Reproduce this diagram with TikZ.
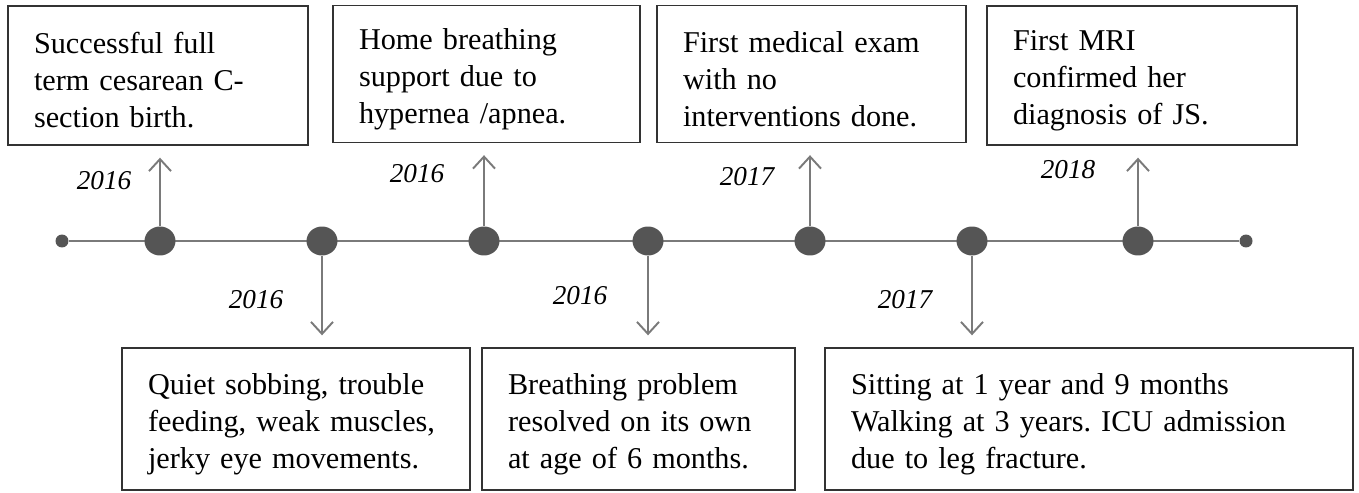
\documentclass[tikz,border=0pt]{standalone}
\usepackage{fontspec}
\setmainfont{Liberation Serif}
\frenchspacing
\usepackage{tikz}
\usetikzlibrary{arrows.meta, positioning, shapes.geometric}
\definecolor{linegray}{HTML}{7A7A7A}
\definecolor{dotgray}{HTML}{555555}
\definecolor{boxgray}{HTML}{333333}
\tikzset{%
	event box/.style={
		draw=boxgray,
		line width=0.8pt,
		align=left,
		inner xsep=0.52cm,
		font=\fontsize{17.2}{21}\selectfont,
		execute at begin node={\rule{0pt}{17.5pt}}
	},
	big dot/.style={
		ellipse, fill=dotgray, inner sep=0pt,
		minimum width=0.62cm, minimum height=0.58cm
	},
	end dot/.style={
		circle, fill=dotgray, inner sep=0pt,
		minimum size=0.26cm
	},
}

\begin{document}
\begin{tikzpicture}[x=0.02cm, y=-0.02cm]
			\tikzstyle{year}=[font=\fontsize{15.5}{18}\selectfont\itshape]
			\tikzstyle{evarrow}=[draw=linegray, line width=1.1pt, -{Straight Barb[length=0.24cm,width=0.44cm]}, shorten >=0.24cm]
			\useasboundingbox (0,0) rectangle (1359,493);
			
			% time line
			\node[end dot](s) at (62,241){};
			\node[end dot](e) at (1246,241){};
			\draw[linegray, line width=1.7pt] (s) -- (e);
			
			\node[big dot](p1) at (160,241){};
			\node[big dot](p2) at (322,241){};
			\node[big dot](p3) at (484,241){};
			\node[big dot](p4) at (648,241){};
			\node[big dot](p5) at (810,241){};
			\node[big dot](p6) at (972,241){};
			\node[big dot](p7) at (1138,241){};
			
			% upper events
			\node[event box, text width=4.96cm, minimum height=2.78cm](b1) at (158,75.5){Successful full\\term cesarean C-\\section birth.};
			\node[event box, text width=5.1cm, minimum height=2.74cm](b2) at (486.5,74){Home breathing\\support due to\\hypernea /apnea.};
			\node[event box, text width=5.14cm, minimum height=2.74cm](b3) at (811.5,74){First medical exam\\with no\\interventions done.};
			\node[event box, text width=5.16cm, minimum height=2.78cm](b4) at (1142,75.5){First MRI\\confirmed her\\diagnosis of JS.};
			
			% lower events
			\node[event box, text width=5.92cm, minimum height=2.84cm](b5) at (296,419){Quiet sobbing, trouble\\feeding, weak muscles,\\jerky eye movements.};
			\node[event box, text width=5.22cm, minimum height=2.84cm](b6) at (638.5,419){Breathing problem\\resolved on its own\\at age of 6 months.};
			\node[event box, text width=9.52cm, minimum height=2.84cm](b7) at (1089,419){Sitting at 1 year and 9 months\\Walking at 3 years. ICU admission\\due to leg fracture.};
			
			\draw[evarrow] (p1) -- (p1 |- b1.south);
			\draw[evarrow] (p3) -- (p3 |- b2.south);
			\draw[evarrow] (p5) -- (p5 |- b3.south);
			\draw[evarrow] (p7) -- (p7 |- b4.south);
			
			\draw[evarrow] (p2) -- (p2 |- b5.north);
			\draw[evarrow] (p4) -- (p4 |- b6.north);
			\draw[evarrow] (p6) -- (p6 |- b7.north);
			
			% years
			\node[year](y1) at (104,181){2016};
			\node[year](y2) at (256,300){2016};
			\node[year](y3) at (417,174){2016};
			\node[year](y4) at (580,296){2016};
			\node[year](y5) at (747,177){2017};
			\node[year](y6) at (905,300){2017};
			\node[year](y7) at (1068,170){2018};
\end{tikzpicture}
\end{document}
